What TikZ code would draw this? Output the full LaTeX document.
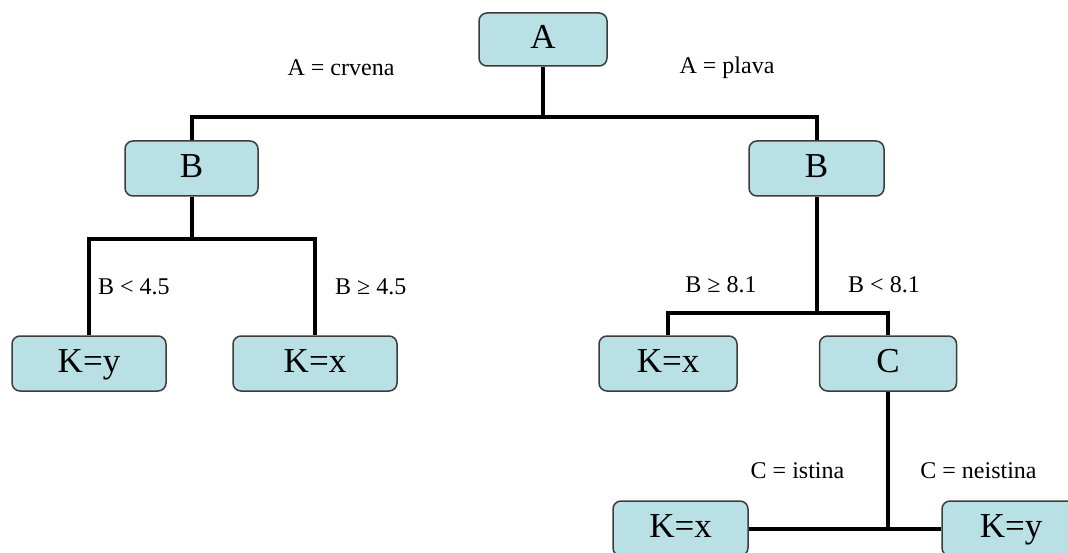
\documentclass[tikz,border=0pt]{standalone}
\usepackage{fontspec}
\setmainfont{Liberation Serif}
\definecolor{boxfill}{HTML}{B9E0E4}
\definecolor{boxline}{HTML}{3C3C3C}
\begin{document}
\begin{tikzpicture}[x=1pt,y=-1pt,
  box/.style={draw=boxline,line width=1.5pt,fill=boxfill,rounded corners=8pt,
    minimum height=55pt,inner sep=0pt,text height=25pt,text depth=7pt,
    font=\fontsize{35}{40}\selectfont},
  cond/.style={font=\fontsize{24}{28}\selectfont,inner sep=0pt},
  link/.style={line width=4pt,black}]
\useasboundingbox (0,0) rectangle (1068,553);
% decision nodes and leaves
\node[box,minimum width=128pt,minimum height=53pt] (A) at (543,39.5) {A};
\node[box,minimum width=133pt] (Bl) at (191.5,168.5) {B};
\node[box,minimum width=135pt] (Br) at (816.5,168.5) {B};
\node[box,minimum width=154pt] (Ly) at (89,363.5) {K=y};
\node[box,minimum width=164pt] (Lx) at (315,363.5) {K=x};
\node[box,minimum width=138pt] (Mx) at (668,363.5) {K=x};
\node[box,minimum width=137pt] (C) at (888,363.5) {C};
\node[box,minimum width=135pt] (Dx) at (680.5,528.5) {K=x};
\node[box,minimum width=138pt] (Dy) at (1011,528.5) {K=y};
% junction points
\coordinate (jA) at (543,117);
\coordinate (jBl) at (191.5,239);
\coordinate (jBr) at (816.5,313);
\coordinate (jC) at (888,528.5);
% connectors
\draw[link] (A.south) -- (jA);
\draw[link] (Bl.north) |- (jA) -| (Br.north);
\draw[link] (Bl.south) -- (jBl);
\draw[link] (Ly.north) |- (jBl) -| (Lx.north);
\draw[link] (Br.south) -- (jBr);
\draw[link] (Mx.north) |- (jBr) -| (C.north);
\draw[link] (C.south) -- (jC);
\draw[link] (Dx.east) -- (jC) -- (Dy.west);
% branch conditions
\node[cond] (lA1) at (341,68) {A = crvena};
\node[cond] (lA2) at (727,68) {A = plava};
\node[cond,anchor=west] (lB1) at (98,287) {B < 4.5};
\node[cond,anchor=west] (lB2) at (335,287) {B ≥ 4.5};
\node[cond] (lB3) at (721,285) {B ≥ 8.1};
\node[cond] (lB4) at (884,285) {B < 8.1};
\node[cond] (lC1) at (797.5,471) {C = istina};
\node[cond] (lC2) at (978.5,471) {C = neistina};
\end{tikzpicture}
\end{document}
